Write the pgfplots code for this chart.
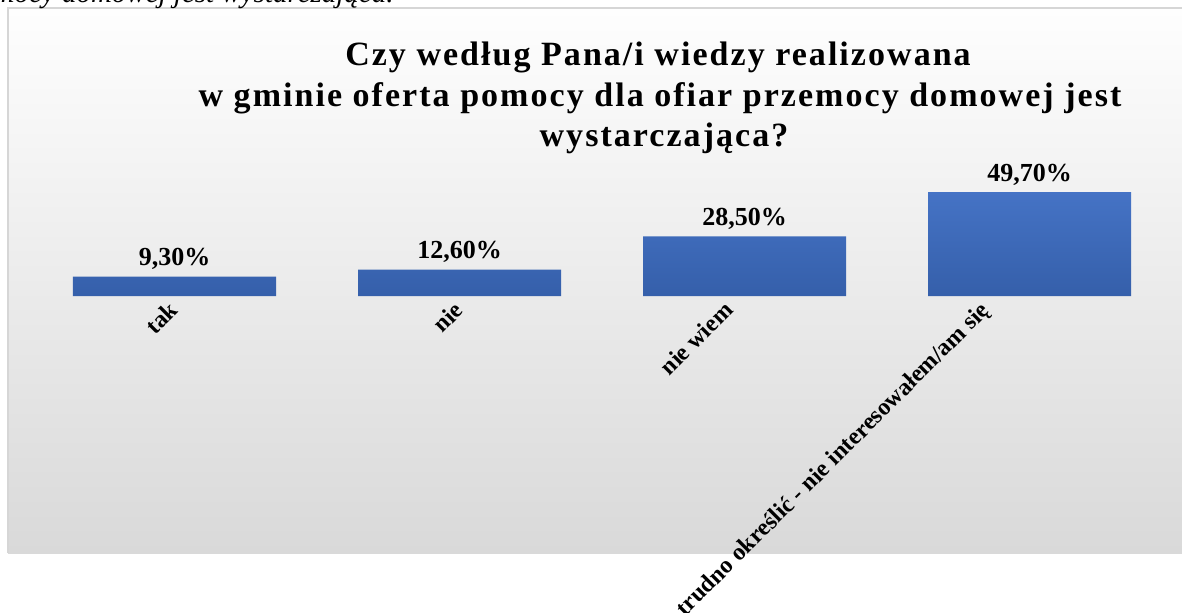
\documentclass[border=0pt]{standalone}
\usepackage{fontspec}
\setmainfont{Liberation Serif}
\newfontfamily\titlefont[LetterSpace=6]{Liberation Serif}
\usepackage{pgfplots}
\pgfplotsset{compat=1.18}
\definecolor{barTop}{RGB}{69,115,197}
\definecolor{barBot}{RGB}{53,95,170}
\definecolor{bgTop}{RGB}{254,254,254}
\definecolor{bgBot}{RGB}{217,217,217}
\definecolor{bdr}{RGB}{214,214,214}
% shift a 45-degree rotated label left (in page terms) by #1 * sqrt(2)
\newcommand{\lbl}[2]{\raisebox{#1}[\height][\depth]{#2}\hspace*{#1}}
\begin{document}
\begin{tikzpicture}[x=1pt,y=1pt]
\useasboundingbox (0,0) rectangle (591,306);
% background panel
\shade[top color=bgTop, bottom color=bgBot] (4,29.5) rectangle (595,302);
\draw[bdr, line width=1pt] (4,29.5) -- (4,302) -- (595,302);
% cut-off document text at top
\node[font=\itshape\fontsize{14.5}{16}\selectfont, anchor=base east, inner sep=0pt] at (197,304.5) {przemocy domowej jest wystarczająca.};
% title
\node[font=\titlefont\bfseries\fontsize{17}{20}\selectfont, anchor=base, inner sep=0pt] at (329,273) {Czy według Pana/i wiedzy realizowana};
\node[font=\titlefont\bfseries\fontsize{17}{20}\selectfont, anchor=base, inner sep=0pt] at (330,253) {w gminie oferta pomocy dla ofiar przemocy domowej jest};
\node[font=\titlefont\bfseries\fontsize{17}{20}\selectfont, anchor=base, inner sep=0pt] at (332,233) {wystarczająca?};
\begin{axis}[
  at={(16pt,158pt)}, anchor=south west,
  scale only axis, width=570pt, height=62.7pt,
  xmin=-0.5, xmax=3.5, ymin=0, ymax=60,
  axis line style={draw=none},
  major tick length=0pt,
  ytick=\empty,
  xtick={0,1,2,3},
  xticklabels={{tak},{nie},{\lbl{5.3pt}{nie wiem}},{\lbl{15.5pt}{trudno określić - nie interesowałem/am się}}},
  xticklabel style={xshift=-3.5pt, yshift=3pt, rotate=45, anchor=north east, font=\bfseries\fontsize{12}{14}\selectfont},
  clip=false,
]
\addplot[ybar, bar width=101.5pt, draw=none, top color=barTop, bottom color=barBot,
  nodes near coords, point meta=explicit symbolic,
  nodes near coords style={font=\bfseries\fontsize{13}{15}\selectfont, text=black, anchor=base, yshift=5.5pt, fill=none, draw=none}]
coordinates {
  (0,9.3) [9,30\%]
  (1,12.6) [12,60\%]
  (2,28.5) [28,50\%]
  (3,49.7) [49,70\%]
};
\end{axis}
\end{tikzpicture}
\end{document}
